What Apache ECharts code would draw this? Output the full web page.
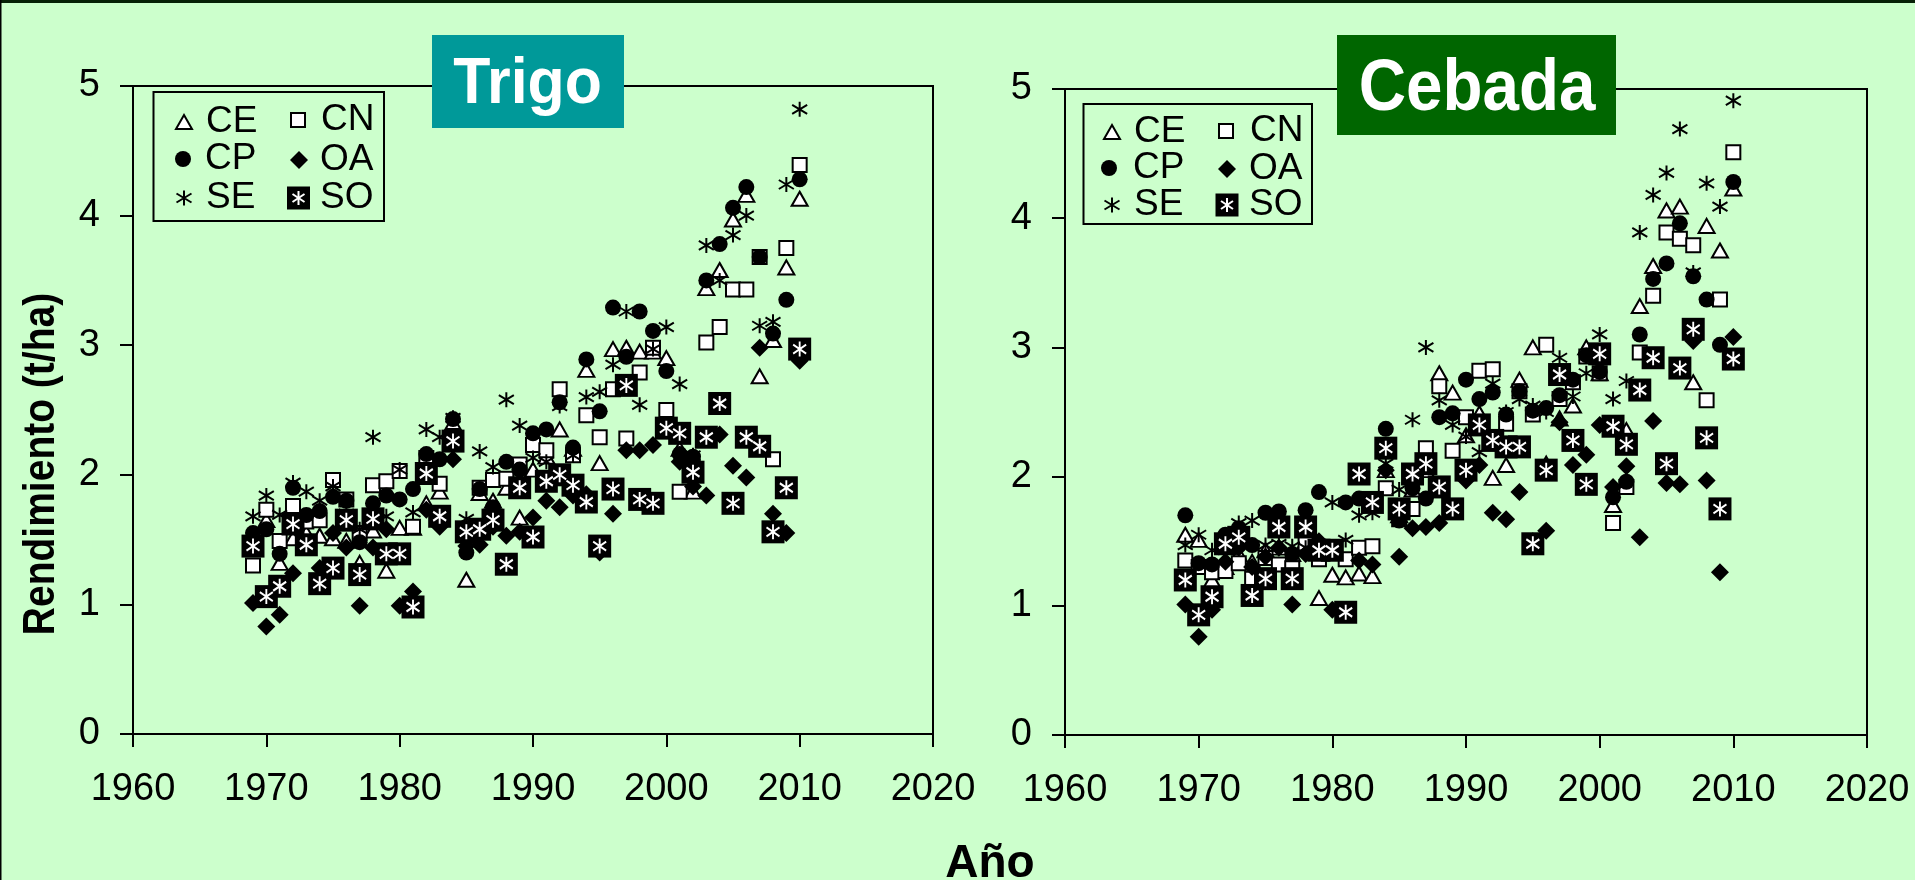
<!DOCTYPE html>
<html lang="es">
<head>
<meta charset="utf-8">
<style>html,body{margin:0;padding:0;background:#CCFFCC}#c{width:1915px;height:880px}</style>
<script src="https://cdn.jsdelivr.net/npm/echarts@6/dist/echarts.min.js"></script>
</head>
<body>
<div id="c"></div>
<script>
var years = [1969,1970,1971,1972,1973,1974,1975,1976,1977,1978,1979,1980,1981,1982,1983,1984,1985,1986,1987,1988,1989,1990,1991,1992,1993,1994,1995,1996,1997,1998,1999,2000,2001,2002,2003,2004,2005,2006,2007,2008,2009,2010];

var trigoCE = [1.50,1.65,1.32,1.51,1.55,1.53,1.51,1.49,1.32,1.57, 1.26,1.59,1.59,1.78,1.87,2.40,1.19,1.86,1.80,1.90, 1.67,2.04,2.14,2.35,2.20,2.81,2.09,2.97,2.98,2.95, 2.95,2.90,2.20,1.87,3.44,3.58,3.97,4.16,2.76,3.04, 3.60,4.13];
var trigoCN = [1.30,1.73,1.49,1.76,1.64,1.65,1.96,1.81,1.55,1.92, 1.95,2.03,1.60,2.13,1.93,2.30,1.55,1.90,1.96,1.97, 2.08,2.23,2.19,2.66,2.15,2.46,2.29,2.66,2.28,2.79, 2.98,2.50,1.87,2.05,3.02,3.14,3.43,3.43,3.68,2.12, 3.75,4.39];
var trigoCP = [1.55,1.58,1.39,1.90,1.69,1.72,1.83,1.80,1.48,1.78, 1.84,1.81,1.89,2.16,2.12,2.43,1.40,1.89,1.75,2.10, 2.04,2.32,2.35,2.56,2.21,2.89,2.49,3.29,2.91,3.26, 3.11,2.80,2.16,2.14,3.50,3.78,4.06,4.22,3.68,3.09, 3.35,4.28];
var trigoOA = [1.01,0.83,0.92,1.24,1.47,1.28,1.55,1.44,0.99,1.44, 1.58,0.99,1.10,1.73,1.60,2.12,1.45,1.46,1.60,1.53, 1.56,1.67,1.80,1.75,1.84,1.85,1.40,1.70,2.19,2.19, 2.23,2.35,2.10,1.91,1.84,2.31,2.07,1.98,2.98,1.70, 1.55,2.88];
var trigoSE = [1.68,1.84,1.69,1.94,1.87,1.80,1.91,1.70,1.58,2.29, 1.68,2.04,1.71,2.35,2.29,2.44,1.66,2.18,2.06,2.58, 2.38,2.13,2.10,2.53,2.15,2.60,2.64,2.85,3.26,2.54, 2.97,3.14,2.70,2.15,3.77,3.50,3.85,4.00,3.15,3.18, 4.24,4.82];
var trigoSO = [1.45,1.06,1.14,1.62,1.46,1.16,1.28,1.65,1.23,1.66, 1.39,1.39,0.98,2.01,1.68,2.26,1.56,1.58,1.65,1.31, 1.90,1.52,1.95,2.00,1.92,1.79,1.45,1.89,2.69,1.81, 1.78,2.36,2.32,2.02,2.29,2.55,1.78,2.29,2.22,1.56, 1.90,2.97];

var cebadaCE = [1.55,1.51,1.20,1.30,1.40,1.34,1.43,1.45,1.40,1.50, 1.06,1.24,1.22,1.25,1.23,2.05,1.70,1.90,2.05,2.80, 2.65,2.32,2.49,1.99,2.09,2.75,3.00,2.10,2.45,2.55, 3.00,2.80,1.78,2.36,3.32,3.63,4.06,4.09,2.73,3.94, 3.75,4.23];
var cebadaCN = [1.35,1.30,1.26,1.27,1.33,1.21,1.37,1.32,1.29,1.48, 1.36,1.45,1.36,1.45,1.46,1.91,1.67,1.75,2.22,2.70, 2.20,2.46,2.82,2.83,2.41,2.66,2.48,3.02,2.60,2.73, 2.93,2.80,1.64,1.92,2.96,3.40,3.89,3.84,3.79,2.59, 3.37,4.51];
var cebadaCP = [1.70,1.33,1.32,1.55,1.60,1.47,1.72,1.73,1.40,1.74, 1.88,1.43,1.80,1.83,1.79,2.37,1.66,1.91,1.83,2.46, 2.49,2.75,2.60,2.65,2.48,2.66,2.51,2.53,2.63,2.75, 2.94,2.81,1.84,1.96,3.10,3.53,3.65,3.96,3.55,3.37, 3.02,4.28];
var cebadaOA = [1.01,0.76,0.97,1.34,1.45,1.30,1.38,1.45,1.01,1.40, 1.50,0.97,0.96,1.35,1.32,2.05,1.38,1.60,1.61,1.64, 1.75,1.97,2.09,1.72,1.67,1.88,1.50,1.58,2.42,2.09, 2.17,2.40,1.92,2.08,1.53,2.43,1.95,1.94,3.05,1.97, 1.26,3.08];
var cebadaSE = [1.47,1.55,1.43,1.45,1.64,1.66,1.47,1.48,1.46,1.45, 1.48,1.80,1.51,1.70,1.72,2.10,1.90,2.44,3.00,2.59, 2.40,2.31,2.19,2.72,2.50,2.60,2.55,2.50,2.92,2.62, 2.80,3.10,2.60,2.74,3.89,4.18,4.35,4.69,3.58,4.27, 4.09,4.91];
var cebadaSO = [1.20,0.93,1.07,1.48,1.53,1.08,1.21,1.61,1.21,1.61, 1.43,1.43,0.95,2.02,1.80,2.22,1.75,2.02,2.10,1.92, 1.75,2.05,2.40,2.28,2.23,2.23,1.48,2.05,2.79,2.28, 1.94,2.95,2.39,2.25,2.67,2.92,2.10,2.84,3.14,2.30, 1.75,2.91];

var FONT = '"Liberation Sans", Arial, sans-serif';
var AST = 'path://M10 0L10 20M0 4L20 16M0 16L20 4';
var styles = {
  CE: {symbol:'triangle', symbolSize:[16,14], itemStyle:{color:'#fff',borderColor:'#000',borderWidth:2,opacity:1}},
  CN: {symbol:'rect', symbolSize:[14,14], itemStyle:{color:'#fff',borderColor:'#000',borderWidth:2,opacity:1}},
  SE: {symbol:AST, symbolSize:[15,15], itemStyle:{color:'transparent',borderColor:'#000',borderWidth:2,opacity:1}},
  CP: {symbol:'circle', symbolSize:16, itemStyle:{color:'#000',borderWidth:0,opacity:1}},
  OA: {symbol:'diamond', symbolSize:18, itemStyle:{color:'#000',borderWidth:0,opacity:1}},
  SO: {symbol:'rect', symbolSize:23, itemStyle:{color:'#000',borderWidth:0,opacity:1}}
};
function pairs(vals){ return years.map(function(y,i){ return [y, vals[i]]; }); }
function mk(name, vals, idx){
  var s = styles[name];
  return {name:name, type:'scatter', xAxisIndex:idx, yAxisIndex:idx, data:pairs(vals),
    symbol:s.symbol, symbolSize:s.symbolSize, itemStyle:s.itemStyle, silent:true, animation:false, clip:false};
}
function overlay(vals, idx){
  return {name:'SO asterisco', type:'scatter', xAxisIndex:idx, yAxisIndex:idx, data:pairs(vals),
    symbol:AST, symbolSize:[13,15], itemStyle:{color:'transparent',borderColor:'#fff',borderWidth:2,opacity:1}, silent:true, animation:false, clip:false};
}
var series = [
  mk('CE',trigoCE,0), mk('CN',trigoCN,0), mk('SE',trigoSE,0), mk('CP',trigoCP,0), mk('OA',trigoOA,0), mk('SO',trigoSO,0), overlay(trigoSO,0),
  mk('CE',cebadaCE,1), mk('CN',cebadaCN,1), mk('SE',cebadaSE,1), mk('CP',cebadaCP,1), mk('OA',cebadaOA,1), mk('SO',cebadaSO,1), overlay(cebadaSO,1)
];
function plain(v){ return String(v); }
function xAxis(i){ return {gridIndex:i,type:'value',min:1960,max:2020,interval:10,splitLine:{show:false},
  axisLine:{show:true,onZero:false,lineStyle:{color:'#000',width:2}},axisTick:{show:true,length:13,lineStyle:{color:'#000',width:2}},
  axisLabel:{color:'#000',fontFamily:FONT,fontSize:38,margin:37,formatter:plain,showMinLabel:true,showMaxLabel:true}}; }
function yAxis(i){ return {gridIndex:i,type:'value',min:0,max:5,interval:1,splitLine:{show:false},
  axisLine:{show:true,onZero:false,lineStyle:{color:'#000',width:2}},axisTick:{show:true,length:13,lineStyle:{color:'#000',width:2}},
  axisLabel:{color:'#000',fontFamily:FONT,fontSize:38,margin:33,formatter:plain,showMinLabel:true,showMaxLabel:true}}; }

/* legend layout: [series, icon centre x, icon centre y, text x, text centre y] */
var legendLayout = [
  ['CE',183,122,205,119],['CN',297,120,320,119],['CP',183,159,205,158.5],['OA',299,160,320,158.5],['SE',183,198,205,196],['SO',298.5,198,320,196],
  ['CE',1111,132,1133,130],['CN',1225,131,1249,130],['CP',1109,168,1133,167.5],['OA',1227,169,1249,167.5],['SE',1111,205,1133,203],['SO',1227,205,1249,203]
];
var legends = legendLayout.map(function(r){
  var s = styles[r[0]], sz = s.symbolSize, w = sz.length ? sz[0] : sz, h = sz.length ? sz[1] : sz;
  var LH = 40, dy = r[2]-r[4];
  return {show:true, data:[{name:r[0], icon:s.symbol, itemStyle:s.itemStyle}], selectedMode:false, orient:'horizontal', padding:0,
    left:r[1]-w/2, top:r[4]-LH/2, itemWidth:w, itemHeight:h,
    textStyle:{color:'#000',fontFamily:FONT,fontSize:37,lineHeight:LH,padding:[0,0,dy*2,r[3]-r[1]-w/2-5]}, z:20};
});

var graphic = [
  {type:'rect',z:1,shape:{x:0,y:0,width:1915,height:3},style:{fill:'#062006'}},
  {type:'rect',z:1,shape:{x:0,y:0,width:1.5,height:880},style:{fill:'#000'}},
  {type:'rect',z:10,shape:{x:153.5,y:92,width:230.5,height:129},style:{fill:'#CCFFCC',stroke:'#000',lineWidth:2}},
  {type:'rect',z:10,shape:{x:1083.5,y:104,width:228.5,height:120},style:{fill:'#CCFFCC',stroke:'#000',lineWidth:2}},
  {type:'rect',z:30,shape:{x:432,y:35,width:192,height:93},style:{fill:'#009999'}},
  {type:'rect',z:30,shape:{x:1337,y:35,width:279,height:100},style:{fill:'#006600'}},
  {type:'text',z:31,x:527.5,y:85,scaleX:0.95,style:{text:'Trigo',fill:'#fff',font:'bold 64px '+FONT,textAlign:'center',textVerticalAlign:'middle'}},
  {type:'text',z:31,x:1477,y:90,scaleX:0.91,style:{text:'Cebada',fill:'#fff',font:'bold 72px '+FONT,textAlign:'center',textVerticalAlign:'middle'}},
  {type:'text',z:31,x:42,y:464,rotation:Math.PI/2,scaleY:1.15,style:{text:'Rendimiento (t/ha)',fill:'#000',font:'bold 39px '+FONT,textAlign:'center',textVerticalAlign:'middle'}},
  {type:'text',z:31,x:990,y:864,style:{text:'Año',fill:'#000',font:'bold 46px '+FONT,textAlign:'center',textVerticalAlign:'middle'}}
];
[[298.5,198],[1227,205]].forEach(function(p){
  graphic.push({type:'group',z:25,x:p[0],y:p[1],children:[
    {type:'line',z:25,shape:{x1:0,y1:-7,x2:0,y2:7},style:{stroke:'#fff',lineWidth:2}},
    {type:'line',z:25,shape:{x1:-6,y1:-4,x2:6,y2:4},style:{stroke:'#fff',lineWidth:2}},
    {type:'line',z:25,shape:{x1:-6,y1:4,x2:6,y2:-4},style:{stroke:'#fff',lineWidth:2}}
  ]});
});

var chart = echarts.init(document.getElementById('c'), null, {renderer:'canvas', width:1915, height:880});
chart.setOption({
  animation:false,
  backgroundColor:'#CCFFCC',
  textStyle:{fontFamily:FONT},
  grid:[
    {left:133,top:86,width:800,height:648,show:true,borderColor:'#000',borderWidth:2,backgroundColor:'transparent'},
    {left:1065,top:89,width:802,height:646,show:true,borderColor:'#000',borderWidth:2,backgroundColor:'transparent'}
  ],
  xAxis:[xAxis(0),xAxis(1)],
  yAxis:[yAxis(0),yAxis(1)],
  legend:legends,
  graphic:graphic,
  series:series
});
</script>
</body>
</html>
